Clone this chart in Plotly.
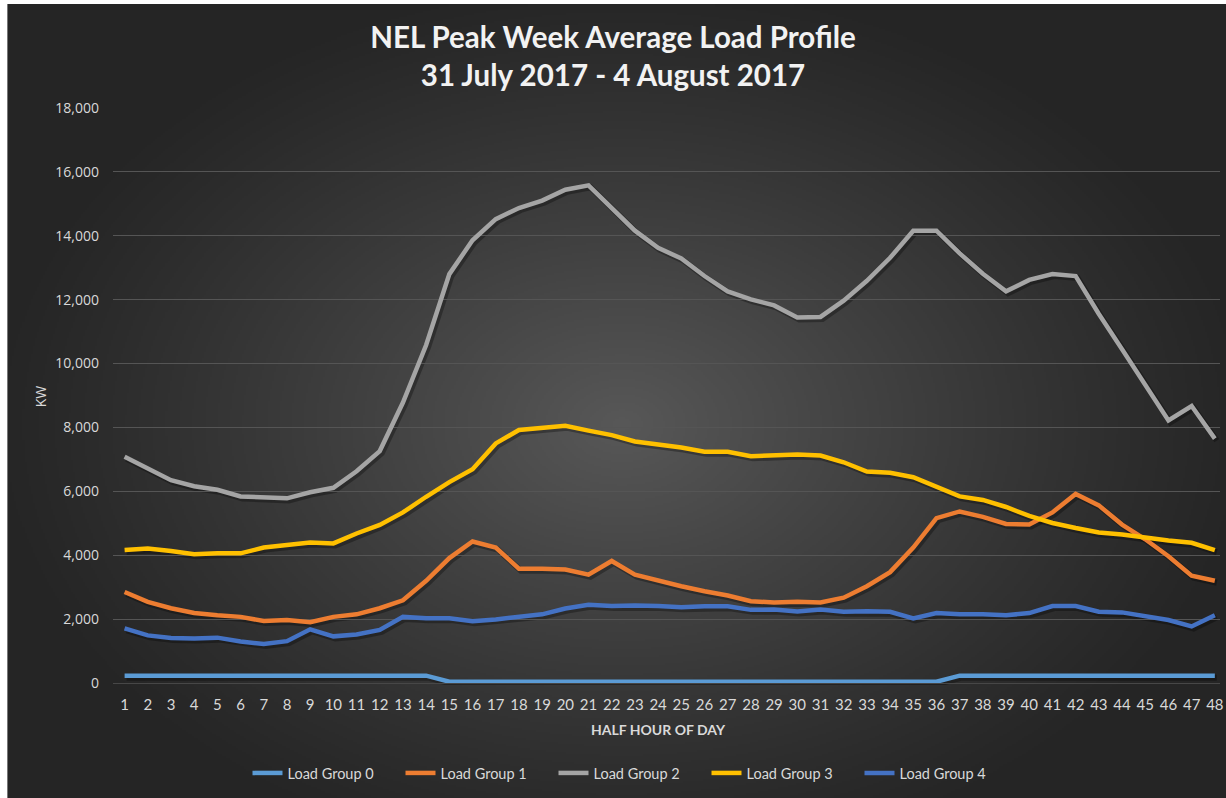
import base64
import struct
import zlib

import numpy as np
import plotly.graph_objects as go

# ---- data -------------------------------------------------------------
half_hours = list(range(1, 49))

load_group_0 = [230] * 14 + [40] * 22 + [230] * 12

load_group_1 = [
    2850, 2540, 2340, 2190, 2120, 2070, 1940, 1970, 1900, 2070,
    2150, 2340, 2590, 3200, 3910, 4430, 4240, 3580, 3580, 3550,
    3390, 3820, 3390, 3200, 3030, 2870, 2740, 2560, 2520, 2540,
    2520, 2670, 3030, 3470, 4240, 5160, 5370, 5200, 4980, 4960,
    5340, 5920, 5560, 4960, 4500, 3970, 3360, 3200,
]

load_group_2 = [
    7080, 6710, 6350, 6160, 6050, 5840, 5800, 5780, 5970, 6110,
    6630, 7260, 8780, 10580, 12800, 13860, 14520, 14870, 15100, 15440,
    15580, 14870, 14160, 13620, 13290, 12740, 12260, 12010, 11820, 11440,
    11460, 11970, 12590, 13310, 14160, 14160, 13450, 12810, 12260, 12620,
    12800, 12740, 11550, 10450, 9350, 8220, 8670, 7650,
]

load_group_3 = [
    4160, 4210, 4130, 4030, 4060, 4060, 4240, 4320, 4400, 4370,
    4680, 4950, 5340, 5830, 6290, 6690, 7500, 7920, 7980, 8050,
    7900, 7760, 7560, 7480, 7370, 7240, 7240, 7100, 7120, 7150,
    7120, 6910, 6620, 6580, 6440, 6140, 5840, 5730, 5510, 5230,
    5010, 4850, 4710, 4650, 4540, 4460, 4390, 4160,
]

load_group_4 = [
    1710, 1490, 1410, 1390, 1420, 1300, 1220, 1310, 1680, 1460,
    1520, 1660, 2070, 2030, 2030, 1930, 1990, 2070, 2150, 2330,
    2450, 2410, 2430, 2410, 2370, 2400, 2400, 2290, 2300, 2240,
    2300, 2230, 2250, 2230, 2020, 2190, 2150, 2150, 2120, 2190,
    2410, 2410, 2230, 2210, 2100, 1970, 1770, 2120,
]

series_names = ["Load Group 0", "Load Group 1", "Load Group 2", "Load Group 3", "Load Group 4"]
series_values = [load_group_0, load_group_1, load_group_2, load_group_3, load_group_4]
series_colors = ["#5B9BD5", "#ED7D31", "#A5A5A5", "#FFC000", "#4472C4"]

y_ticks = list(range(0, 18001, 2000))

# ---- page geometry (px) ---------------------------------------------------
W, H = 1226, 798
M_L, M_R, M_T, M_B = 113, 0, 108, 113
PLOT_W = W - M_L - M_R
PLOT_H = H - M_T - M_B
SHADOW_DX, SHADOW_DY = 2, 2
CATEGORY_PX = 23.28                      # width of one half-hour slot
X_MIN = 0.5
X_MAX = X_MIN + (PLOT_W - SHADOW_DX) / CATEGORY_PX
EDGE_GREY = "#252525"


# ---- radial gradient backdrop rendered to a PNG data URI ---------------
def radial_backdrop(width, height):
    yy, xx = np.mgrid[0:height, 0:width].astype(float)
    cx, cy = width * 0.5, height * 0.52
    t = np.sqrt(((xx - cx) / (width * 0.52)) ** 2 + ((yy - cy) / (height * 0.56)) ** 2)
    t = np.clip(t, 0, 1)
    inner, outer = 88.0, 37.0
    v = outer + (inner - outer) * (1 - t) ** 1.15
    img = np.repeat(v[..., None], 3, axis=2).clip(0, 255).astype(np.uint8)
    raw = b"".join(b"\x00" + row.tobytes() for row in img)

    def chunk(tag, data):
        return (struct.pack(">I", len(data)) + tag + data
                + struct.pack(">I", zlib.crc32(tag + data) & 0xFFFFFFFF))

    png = (b"\x89PNG\r\n\x1a\n"
           + chunk(b"IHDR", struct.pack(">IIBBBBB", width, height, 8, 2, 0, 0, 0))
           + chunk(b"IDAT", zlib.compress(raw, 9))
           + chunk(b"IEND", b""))
    return "data:image/png;base64," + base64.b64encode(png).decode()


bg_left, bg_top = 7, 4
bg_overrun = 12                                   # extend past the right/bottom page edge
bg_uri = radial_backdrop((W - bg_left) // 2, (H - bg_top) // 2)

fig = go.Figure()

# soft drop shadows under each line (offset subplot x/y)
for vals in series_values:
    fig.add_trace(go.Scatter(
        x=half_hours, y=vals, mode="lines", xaxis="x", yaxis="y",
        line=dict(color="rgba(0,0,0,0.30)", width=6),
        hoverinfo="skip", showlegend=False,
    ))

# the load profiles
for name, vals, color in zip(series_names, series_values, series_colors):
    fig.add_trace(go.Scatter(
        x=half_hours, y=vals, name=name, mode="lines", xaxis="x2", yaxis="y2",
        line=dict(color=color, width=4.5),
    ))

text_col = "#d9d9d9"
grid_col = "#555555"
sx = SHADOW_DX / PLOT_W
sy = SHADOW_DY / PLOT_H

hidden = dict(showgrid=False, zeroline=False, showticklabels=False, ticks="", showline=False)


def page_to_paper(px_x, px_y):
    return (px_x - M_L) / PLOT_W, (H - M_B - px_y) / PLOT_H


bg_x, bg_y = page_to_paper(bg_left, bg_top)
page_x0, page_y1 = page_to_paper(-5, -5)
page_x1, page_y0 = page_to_paper(W + 5, H + 5)

fig.update_layout(
    width=W, height=H,
    margin=dict(l=M_L, r=M_R, t=M_T, b=M_B, pad=0),
    paper_bgcolor=EDGE_GREY,
    plot_bgcolor="rgba(0,0,0,0)",
    images=[dict(
        source=bg_uri, xref="paper", yref="paper",
        x=bg_x, y=bg_y,
        sizex=(W + bg_overrun - bg_left) / PLOT_W,
        sizey=(H + bg_overrun - bg_top) / PLOT_H,
        xanchor="left", yanchor="top", sizing="stretch", layer="below",
    )],
    # white page border on the left and top of the chart
    shapes=[
        dict(type="rect", xref="paper", yref="paper", layer="below",
             x0=page_x0, x1=bg_x, y0=page_y0, y1=page_y1,
             fillcolor="white", line=dict(width=0)),
        dict(type="rect", xref="paper", yref="paper", layer="below",
             x0=page_x0, x1=page_x1, y0=bg_y, y1=page_y1,
             fillcolor="white", line=dict(width=0)),
    ],
    title=dict(
        text="<b>NEL Peak Week Average Load Profile<br>31 July 2017 - 4 August 2017</b>",
        font=dict(family="Lato", size=29.5, color="#f2f2f2"),
        x=0.5, xanchor="center", xref="container",
        y=1 - 48 / H, yanchor="middle", yref="container",
    ),
    xaxis=dict(domain=[sx, 1], range=[X_MIN, X_MAX], **hidden),
    yaxis=dict(domain=[0, 1 - sy], range=[0, 18000], **hidden),
    xaxis2=dict(
        domain=[0, 1 - sx], range=[X_MIN, X_MAX], anchor="y2",
        tickmode="array", tickvals=half_hours, ticktext=[str(h) for h in half_hours],
        tickfont=dict(family="Lato", size=15, color=text_col),
        ticklabeloverflow="allow",
        showgrid=False, zeroline=False, ticks="", ticklabelstandoff=8,
        showline=True, linecolor="#474747", linewidth=1,
    ),
    yaxis2=dict(
        domain=[sy, 1], range=[0, 18000], anchor="x2",
        tickmode="array", tickvals=y_ticks, ticktext=[f"{v:,}" for v in y_ticks],
        tickfont=dict(family="Open Sans", size=14, color=text_col),
        showgrid=True, gridcolor=grid_col, gridwidth=1,
        zeroline=False, ticks="", ticklabelstandoff=13, showline=False,
    ),
    legend=dict(
        orientation="h", x=630 / W, xref="container", xanchor="center",
        y=1 - 773 / H, yref="container", yanchor="middle",
        font=dict(family="Lato", size=14.5, color=text_col),
        bgcolor="rgba(0,0,0,0)", entrywidth=108, itemwidth=30,
    ),
    showlegend=True,
)

# axis titles placed at page-pixel positions
kw_x, kw_y = page_to_paper(40, 396)
xt_x, xt_y = page_to_paper(660, 729)
fig.add_annotation(text="KW", x=kw_x, y=kw_y, xref="paper", yref="paper",
                   showarrow=False, textangle=-90, xanchor="center", yanchor="middle",
                   font=dict(family="Open Sans", size=14, color=text_col))
fig.add_annotation(text="<b>HALF HOUR OF DAY</b>", x=xt_x, y=xt_y, xref="paper", yref="paper",
                   showarrow=False, xanchor="center", yanchor="middle",
                   font=dict(family="Lato", size=14, color=text_col))

fig.write_html("out.html")
